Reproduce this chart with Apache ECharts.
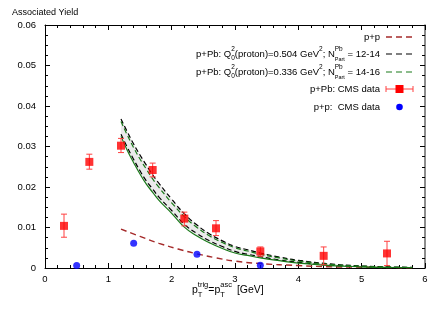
<!DOCTYPE html>
<html>
<head>
<meta charset="utf-8">
<script src="https://cdn.jsdelivr.net/npm/echarts@6/dist/echarts.min.js"></script>
<style>html,body{margin:0;padding:0;background:#fff}#c{width:443px;height:310px}</style>
</head>
<body>
<div id="c"></div>
<script>
// ---- data ----
const xTicks = [0, 1, 2, 3, 4, 5, 6];
const yTicks = [0, 0.01, 0.02, 0.03, 0.04, 0.05, 0.06];

// p+Pb CMS data
const ppbX  = [0.3, 0.7, 1.2, 1.7, 2.2, 2.7, 3.4, 4.4, 5.4];
const ppbY  = [0.0104, 0.0262, 0.0302, 0.0242, 0.0122, 0.0098, 0.0041, 0.0030, 0.0036];
const ppbLo = [0.0076, 0.0244, 0.0285, 0.0225, 0.0104, 0.0080, 0.0029, 0.0008, 0.0006];
const ppbHi = [0.0133, 0.0281, 0.0320, 0.0259, 0.0138, 0.0117, 0.0052, 0.0052, 0.0066];

// p+p CMS data
const ppX = [0.5, 1.4, 2.4, 3.4];
const ppY = [0.0006, 0.0061, 0.0034, 0.0007];

// model curves p+Pb
const bandX   = [1.2, 1.3, 1.4, 1.5, 1.6, 1.7, 1.8, 2.0, 2.2, 2.4, 2.6, 2.8, 3.0, 3.2, 3.4, 3.7, 4.0, 4.5, 5.0, 5.5, 5.8];
const blackUp = [0.0368, 0.0336, 0.0306, 0.0279, 0.0254, 0.0230, 0.0209, 0.0170, 0.0134, 0.0106, 0.0084, 0.0067, 0.0053, 0.0045, 0.0037, 0.0027, 0.0019, 0.0010, 0.0005, 0.00025, 0.00015];
const greenUp = [0.0362, 0.0328, 0.0297, 0.0269, 0.0244, 0.0220, 0.0199, 0.0161, 0.0127, 0.0100, 0.0079, 0.0063, 0.0050, 0.0042, 0.0034, 0.0025, 0.0017, 0.0009, 0.00045, 0.0002, 0.00012];
const blackLo = [0.0330, 0.0298, 0.0268, 0.0240, 0.0215, 0.0195, 0.0175, 0.0142, 0.0108, 0.0085, 0.0067, 0.0053, 0.0041, 0.0034, 0.0028, 0.0020, 0.0014, 0.0007, 0.00035, 0.00015, 0.0001];
const greenLo = [0.0325, 0.0290, 0.0260, 0.0232, 0.0207, 0.0187, 0.0167, 0.0135, 0.0101, 0.0079, 0.0062, 0.0048, 0.0037, 0.0031, 0.0025, 0.0018, 0.0012, 0.0006, 0.0003, 0.00012, 0.00008];

// p+p model curve
const ppCurveX = [1.2, 1.5, 1.8, 2.1, 2.4, 2.7, 3.0, 3.4, 4.0, 4.5, 5.0, 5.5, 5.8];
const ppCurveY = [0.0096, 0.0078, 0.0061, 0.0047, 0.0035, 0.0025, 0.0017, 0.0011, 0.0006, 0.0003, 0.0002, 0.0001, 0.00005];

// ---- chart ----
const FONT = '"Liberation Sans", Arial, sans-serif';
const chart = echarts.init(document.getElementById('c'), null, {renderer: 'canvas'});
const pair = (xs, ys) => xs.map((x, i) => [x, ys[i]]);

const axisCommon = {
  axisLine: {show: true, onZero: false, lineStyle: {color: '#000', width: 1}},
  axisTick: {show: true, inside: true, length: 5, lineStyle: {color: '#000'}},
  splitLine: {show: false}
};

const legendRows = [
  {y: 37, text: 'p+p'},
  {y: 54, text: 'p+Pb: Q{sub0|0}{sup|2}(proton)=0.504 GeV{sup|2}; N{sup0|Pb}{sub|Part} = 12-14'},
  {y: 72, text: 'p+Pb: Q{sub0|0}{sup|2}(proton)=0.336 GeV{sup|2}; N{sup0|Pb}{sub|Part} = 14-16'},
  {y: 89, text: 'p+Pb: CMS data'},
  {y: 107, text: 'p+p:  CMS data'}
];
const richStyles = {
  sup: {fontSize: 6.5, verticalAlign: 'top', fontFamily: FONT, fill: '#000', lineHeight: 16},
  sup0: {fontSize: 6.5, verticalAlign: 'top', fontFamily: FONT, fill: '#000', width: 0, lineHeight: 16},
  sub: {fontSize: 5.5, verticalAlign: 'bottom', fontFamily: FONT, fill: '#000', lineHeight: 16},
  sub0: {fontSize: 6.5, verticalAlign: 'bottom', fontFamily: FONT, fill: '#000', width: 0, lineHeight: 16}
};
const graphics = [];
legendRows.forEach(r => {
  graphics.push({
    type: 'text', right: 443 - 380, top: r.y - 8, z: 100,
    style: {text: r.text, font: '9.5px ' + FONT, fill: '#000', rich: richStyles, lineHeight: 16, align: 'right'}
  });
});
// legend samples
graphics.push({type: 'line', z: 100, shape: {x1: 386, y1: 37, x2: 413, y2: 37}, style: {stroke: '#a52a2a', lineWidth: 1.4, lineDash: [6, 4]}});
graphics.push({type: 'line', z: 100, shape: {x1: 386, y1: 54, x2: 413, y2: 54}, style: {stroke: '#000', lineWidth: 1.2, lineDash: [6, 4]}});
graphics.push({type: 'line', z: 100, shape: {x1: 386, y1: 72, x2: 413, y2: 72}, style: {stroke: '#1a7a1a', lineWidth: 1.2, lineDash: [6, 4]}});
graphics.push({type: 'line', z: 100, shape: {x1: 386, y1: 89, x2: 413, y2: 89}, style: {stroke: '#ff4040', lineWidth: 1}});
graphics.push({type: 'line', z: 100, shape: {x1: 386, y1: 86, x2: 386, y2: 92}, style: {stroke: '#ff4040', lineWidth: 1}});
graphics.push({type: 'line', z: 100, shape: {x1: 413, y1: 86, x2: 413, y2: 92}, style: {stroke: '#ff4040', lineWidth: 1}});
graphics.push({type: 'rect', z: 100, shape: {x: 395.5, y: 85, width: 8, height: 8}, style: {fill: '#ff0000'}});
graphics.push({type: 'circle', z: 100, shape: {cx: 399.5, cy: 107, r: 3.3}, style: {fill: '#0000ff'}});
// title
graphics.push({type: 'text', left: 12, top: 8, style: {text: 'Associated Yield', font: '9px ' + FONT, fill: '#000'}});
// x axis name
graphics.push({
  type: 'text', left: 192, top: 281, z: 100,
  style: {
    text: 'p{sub0|T}{sup|trig}=p{sub0|T}{sup|asc}{sp| }[GeV]',
    font: '10.5px ' + FONT, fill: '#000', lineHeight: 18,
    rich: {
      sup: {fontSize: 7.5, verticalAlign: 'top', fontFamily: FONT, fill: '#000', lineHeight: 18},
      sub0: {fontSize: 7.5, verticalAlign: 'bottom', fontFamily: FONT, fill: '#000', width: 0, lineHeight: 18},
      sp: {fontSize: 10.5, fontFamily: FONT, width: 5, lineHeight: 18}
    }
  }
});

const option = {
  animation: false,
  backgroundColor: '#fff',
  textStyle: {fontFamily: FONT},
  grid: {left: 45, right: 18, top: 25, bottom: 42, containLabel: false},
  xAxis: [
    Object.assign({}, axisCommon, {
      type: 'value', min: 0, max: 6, interval: 1, position: 'bottom',
      minorTick: {show: true, splitNumber: 5, length: 3, lineStyle: {color: '#000'}},
      axisLabel: {color: '#000', fontSize: 9.5, margin: 6, fontFamily: FONT,
        formatter: v => xTicks.indexOf(v) >= 0 ? String(v) : ''}
    }),
    Object.assign({}, axisCommon, {
      type: 'value', min: 0, max: 6, interval: 1, position: 'top',
      minorTick: {show: true, splitNumber: 5, length: 3, lineStyle: {color: '#000'}},
      axisLabel: {show: false}
    })
  ],
  yAxis: [
    Object.assign({}, axisCommon, {
      type: 'value', min: 0, max: 0.06, interval: 0.01, position: 'left',
      minorTick: {show: true, splitNumber: 4, length: 3, lineStyle: {color: '#000'}},
      axisLabel: {color: '#000', fontSize: 9.5, margin: 9, fontFamily: FONT,
        formatter: v => { const t = yTicks.find(k => Math.abs(k - v) < 1e-9); return t === undefined ? '' : (t === 0 ? '0' : t.toFixed(2)); }}
    }),
    Object.assign({}, axisCommon, {
      type: 'value', min: 0, max: 0.06, interval: 0.01, position: 'right',
      axisLine: {show: true, onZero: false, lineStyle: {color: '#666', width: 1.5}},
      minorTick: {show: true, splitNumber: 4, length: 3, lineStyle: {color: '#000'}},
      axisLabel: {show: false}
    })
  ],
  series: [
    {
      name: 'band', type: 'custom', xAxisIndex: 0, yAxisIndex: 0, z: 1, silent: true,
      data: [[bandX[0], blackUp[0]]],
      renderItem: (params, api) => {
        const pts = bandX.map((x, i) => api.coord([x, blackUp[i]]));
        for (let i = bandX.length - 1; i >= 0; i--) pts.push(api.coord([bandX[i], greenLo[i]]));
        return {type: 'polygon', shape: {points: pts}, style: {fill: '#ebebeb'}};
      }
    },
    {name: 'p+p', type: 'line', data: pair(ppCurveX, ppCurveY), showSymbol: false, smooth: true, z: 3,
      lineStyle: {color: '#a52a2a', width: 1.4, type: [6, 4]}},
    {name: 'black upper', type: 'line', data: pair(bandX, blackUp), showSymbol: false, smooth: true, z: 3,
      lineStyle: {color: '#000', width: 1.2, type: [5, 3]}},
    {name: 'black lower', type: 'line', data: pair(bandX, blackLo), showSymbol: false, smooth: true, z: 3,
      lineStyle: {color: '#000', width: 1.2, type: [5, 3]}},
    {name: 'green upper', type: 'line', data: pair(bandX, greenUp), showSymbol: false, smooth: true, z: 3,
      lineStyle: {color: '#1a7a1a', width: 1.2, type: [5, 3]}},
    {name: 'green lower', type: 'line', data: pair(bandX, greenLo), showSymbol: false, smooth: true, z: 3,
      lineStyle: {color: '#1a7a1a', width: 1.2}},
    {
      name: 'p+Pb err', type: 'custom', z: 4,
      data: ppbX.map((x, i) => [x, ppbLo[i], ppbHi[i]]),
      encode: {x: 0, y: [1, 2]},
      renderItem: (params, api) => {
        const x = api.value(0);
        const lo = api.coord([x, api.value(1)]);
        const hi = api.coord([x, api.value(2)]);
        const st = {stroke: '#ff4040', lineWidth: 1};
        return {type: 'group', children: [
          {type: 'line', shape: {x1: lo[0], y1: lo[1], x2: hi[0], y2: hi[1]}, style: st},
          {type: 'line', shape: {x1: lo[0] - 3, y1: lo[1], x2: lo[0] + 3, y2: lo[1]}, style: st},
          {type: 'line', shape: {x1: hi[0] - 3, y1: hi[1], x2: hi[0] + 3, y2: hi[1]}, style: st}
        ]};
      }
    },
    {name: 'p+Pb: CMS data', type: 'scatter', data: pair(ppbX, ppbY), symbol: 'rect', symbolSize: 8, z: 5,
      itemStyle: {color: '#ff0000'}},
    {name: 'p+p:  CMS data', type: 'scatter', data: pair(ppX, ppY), symbol: 'circle', symbolSize: 7, z: 5,
      itemStyle: {color: '#0000ff'}}
  ],
  graphic: graphics
};
chart.setOption(option);
</script>
</body>
</html>
